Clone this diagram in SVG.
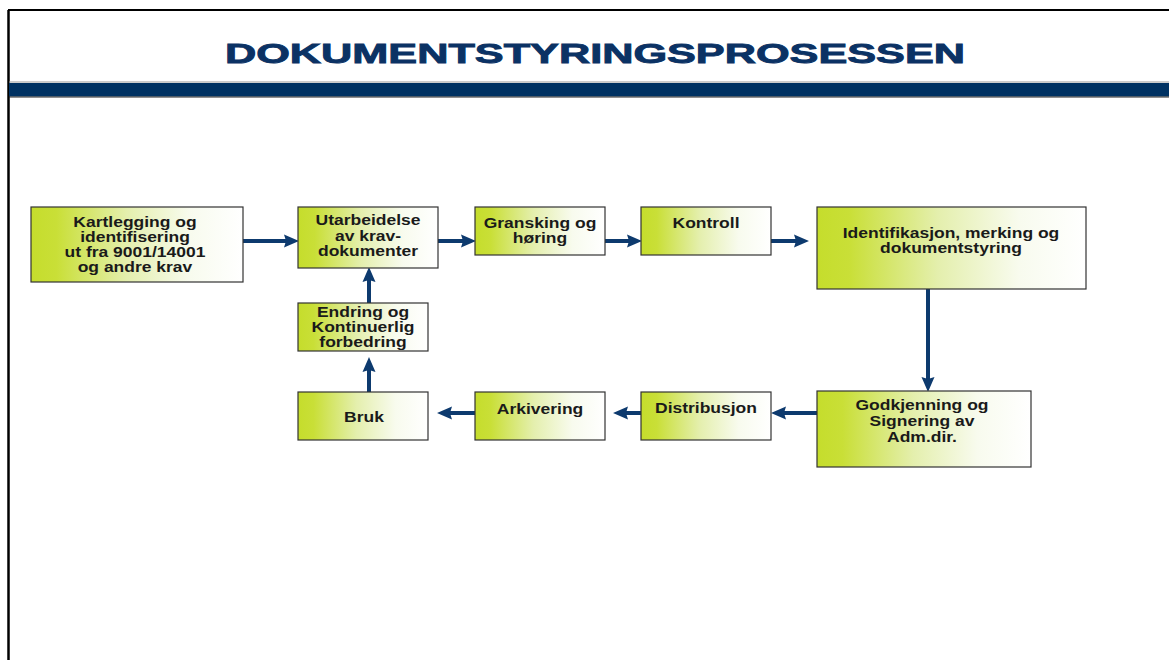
<svg xmlns="http://www.w3.org/2000/svg" width="1169" height="660" viewBox="0 0 1169 660">
<style>
.box{fill:url(#g);stroke:#333;stroke-width:1.2}
.t{font-family:"Liberation Sans",Arial,sans-serif;font-weight:bold;font-size:14px;fill:#1a1a1a;text-anchor:middle}
.c{fill:none;stroke:#0d3a6e;stroke-width:4;marker-end:url(#a)}
</style>
<defs>
<linearGradient id="g" x1="0" y1="0" x2="1" y2="0">
<stop offset="0" stop-color="#c5dd2c"/>
<stop offset="0.12" stop-color="#c9df37"/>
<stop offset="0.45" stop-color="#e4efad"/>
<stop offset="0.75" stop-color="#f8fbee"/>
<stop offset="1" stop-color="#ffffff"/>
</linearGradient>
<marker id="a" markerUnits="userSpaceOnUse" markerWidth="15" markerHeight="13" refX="4" refY="6.5" orient="auto" overflow="visible">
<path d="M0,0 L15,6.5 L0,13 L2,6.5 z" fill="#0d3a6e"/>
</marker>
</defs>
<rect width="1169" height="660" fill="#fff"/>
<g id="frame">
<line x1="8.5" y1="10" x2="8.5" y2="660" stroke="#000" stroke-width="2.5"/>
<line x1="8" y1="10" x2="1169" y2="10" stroke="#000" stroke-width="2"/>
<line x1="9" y1="82" x2="1169" y2="82" stroke="#999" stroke-width="1"/>
<rect x="9" y="83" width="1160" height="13.5" fill="#003263"/>
<line x1="9" y1="97" x2="1169" y2="97" stroke="#222" stroke-width="1"/>
</g>
<text id="title" x="595" y="63" font-family="'Liberation Sans',Arial,sans-serif" font-weight="bold" font-size="28.5" fill="#0b3264" stroke="#0b3264" stroke-width="0.9" text-anchor="middle" textLength="740" lengthAdjust="spacingAndGlyphs">DOKUMENTSTYRINGSPROSESSEN</text>
<g id="connectors">
<path class="c" d="M243,241 H288"/>
<path class="c" d="M438,241 H465"/>
<path class="c" d="M605,241 H631"/>
<path class="c" d="M771,241 H798"/>
<path class="c" d="M928,289 V381"/>
<path class="c" d="M817,413 H782"/>
<path class="c" d="M641,413 H624"/>
<path class="c" d="M475,413 H448"/>
<path class="c" d="M369,392 V368"/>
<path class="c" d="M369,303 V278"/>
</g>
<g id="n1"><rect class="box" x="31" y="207" width="212" height="75"/>
<text class="t" transform="translate(135,227) scale(1.25,1)">Kartlegging og</text><text class="t" transform="translate(135,242) scale(1.25,1)">identifisering</text><text class="t" transform="translate(135,257) scale(1.25,1)">ut fra 9001/14001</text><text class="t" transform="translate(135,272) scale(1.25,1)">og andre krav</text></g>
<g id="n2"><rect class="box" x="298" y="207" width="140" height="61"/>
<text class="t" transform="translate(368,225) scale(1.25,1)">Utarbeidelse</text><text class="t" transform="translate(368,241) scale(1.25,1)">av krav-</text><text class="t" transform="translate(368,256) scale(1.25,1)">dokumenter</text></g>
<g id="n3"><rect class="box" x="475" y="207" width="130" height="48"/>
<text class="t" transform="translate(540,228) scale(1.25,1)">Gransking og</text><text class="t" transform="translate(540,243) scale(1.25,1)">høring</text></g>
<g id="n4"><rect class="box" x="641" y="207" width="130" height="48"/>
<text class="t" transform="translate(706,228) scale(1.25,1)">Kontroll</text></g>
<g id="n5"><rect class="box" x="817" y="207" width="269" height="82"/>
<text class="t" transform="translate(951,238) scale(1.25,1)">Identifikasjon, merking og</text><text class="t" transform="translate(951,253) scale(1.25,1)">dokumentstyring</text></g>
<g id="n6"><rect class="box" x="817" y="391" width="214" height="76"/>
<text class="t" transform="translate(922,410) scale(1.25,1)">Godkjenning og</text><text class="t" transform="translate(922,426) scale(1.25,1)">Signering av</text><text class="t" transform="translate(922,442) scale(1.25,1)">Adm.dir.</text></g>
<g id="n7"><rect class="box" x="641" y="392" width="130" height="48"/>
<text class="t" transform="translate(706,413) scale(1.25,1)">Distribusjon</text></g>
<g id="n8"><rect class="box" x="475" y="392" width="130" height="48"/>
<text class="t" transform="translate(540,414) scale(1.25,1)">Arkivering</text></g>
<g id="n9"><rect class="box" x="298" y="392" width="130" height="48"/>
<text class="t" transform="translate(364,422) scale(1.25,1)">Bruk</text></g>
<g id="n10"><rect class="box" x="298" y="303" width="130" height="48"/>
<text class="t" transform="translate(363,317) scale(1.25,1)">Endring og</text><text class="t" transform="translate(363,332) scale(1.25,1)">Kontinuerlig</text><text class="t" transform="translate(363,347) scale(1.25,1)">forbedring</text></g>
</svg>
